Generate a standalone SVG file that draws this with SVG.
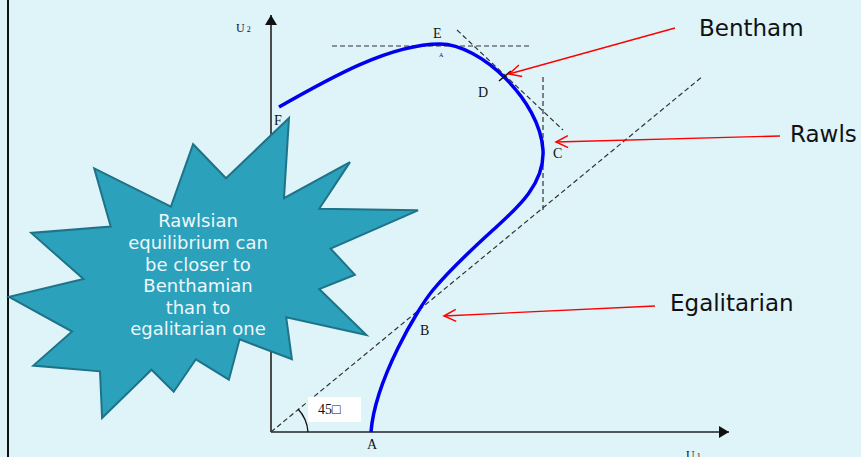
<svg xmlns="http://www.w3.org/2000/svg" width="861" height="457" viewBox="0 0 861 457">
<style>
.lbl{font-family:"Liberation Serif","DejaVu Serif",serif;font-size:14px;fill:#111}
.big{font-family:"DejaVu Sans","Verdana",sans-serif;font-size:23px;fill:#111}
.star-t{font-family:"DejaVu Sans","Verdana",sans-serif;font-size:18px;fill:#EEF8FB;text-anchor:middle}
.dash{fill:none;stroke:#333;stroke-width:1.2;stroke-dasharray:5,3}
.red{fill:none;stroke:#FF0000;stroke-width:1.3}
.axis{fill:none;stroke:#222;stroke-width:1.6}
</style>
<defs>
<marker id="ah" markerWidth="12" markerHeight="12" refX="10" refY="6" orient="auto" markerUnits="userSpaceOnUse">
<path d="M0,0 L10,6 L0,12" fill="#111"/>
</marker>
<marker id="ra" markerWidth="16" markerHeight="14" refX="13" refY="7" orient="auto" markerUnits="userSpaceOnUse">
<path d="M1,1 L13,7 L1,13" fill="none" stroke="#FF0000" stroke-width="1.5"/>
</marker>
</defs>
<rect x="0" y="0" width="861" height="457" fill="#DEF4F9"/>
<line x1="8" y1="0" x2="8" y2="457" stroke="#111" stroke-width="2"/>

<g id="connectors">
<line class="axis" x1="271" y1="432" x2="271" y2="15" marker-end="url(#ah)"/>
<line class="axis" x1="271" y1="432" x2="729" y2="432" marker-end="url(#ah)"/>
<line class="dash" x1="271" y1="432" x2="703" y2="76"/>
<line class="dash" x1="332" y1="46" x2="530" y2="46"/>
<line class="dash" x1="457" y1="30" x2="563" y2="130"/>
<line class="dash" x1="543" y1="77" x2="543" y2="212"/>
<path d="M298,409 A37,37 0 0 1 308,432" fill="none" stroke="#111" stroke-width="1.3"/>
<path id="curve" d="M279,107 C330,78 390,44 440,44 C480,44 540,100 543,150 C545,185 515,210 493,230 C471,250 448,272 433,290 C418,308 375,380 371,432" fill="none" stroke="#0000EE" stroke-width="3.5"/>
<line x1="499" y1="81" x2="511" y2="71" stroke="#111" stroke-width="1.5"/>
<line class="red" x1="675" y1="28" x2="509" y2="74" marker-end="url(#ra)"/>
<line class="red" x1="780" y1="136" x2="556" y2="142" marker-end="url(#ra)"/>
<line class="red" x1="655" y1="306" x2="444" y2="316" marker-end="url(#ra)"/>
</g>

<g id="labels">
<text class="lbl" x="236" y="32" style="font-size:12px">U<tspan style="font-size:8px" dx="2">2</tspan></text>
<text class="lbl" x="686" y="459" style="font-size:12px">U<tspan style="font-size:8px" dx="2">1</tspan></text>
<text class="lbl" x="433" y="38">E</text>
<text class="lbl" x="439" y="57" style="font-size:6px">A</text>
<text class="lbl" x="478" y="97">D</text>
<text class="lbl" x="553" y="158">C</text>
<text class="lbl" x="420" y="335">B</text>
<text class="lbl" x="367" y="449">A</text>
<text class="lbl" x="274" y="125">F</text>
</g>

<g id="angle-box">
<rect x="308" y="397" width="53" height="25" fill="#FFFFFF"/>
<text class="lbl" x="318" y="414">45□</text>
</g>

<g id="bentham"><text class="big" x="699" y="36">Bentham</text></g>
<g id="rawls"><text class="big" x="790" y="142">Rawls</text></g>
<g id="egalitarian"><text class="big" x="670" y="311">Egalitarian</text></g>

<g id="star">
<polygon points="226,178.3 289,118 284,198.2 350,162.1 319.2,208.7 418,210.3 330.6,248.6 354.9,274.8 319.2,289 366.4,335.1 286.2,317.3 291.9,359.3 239.6,339.3 228.9,379.7 195.9,359.3 173.7,391.8 151.5,369.7 102.1,418 100,371.3 33.3,365.6 72.1,331.5 9,296.8 83.5,279 31.2,232.9 110.7,226.6 94.2,168.3 170.9,206.6 193.1,144.2" fill="#2BA1BC" stroke="#1F7388" stroke-width="2" stroke-linejoin="miter"/>
<text class="star-t" x="198" y="227">Rawlsian</text>
<text class="star-t" x="198" y="249">equilibrium can</text>
<text class="star-t" x="198" y="270.5">be closer to</text>
<text class="star-t" x="198" y="292">Benthamian</text>
<text class="star-t" x="198" y="313.5">than to</text>
<text class="star-t" x="198" y="335">egalitarian one</text>
</g>
</svg>
